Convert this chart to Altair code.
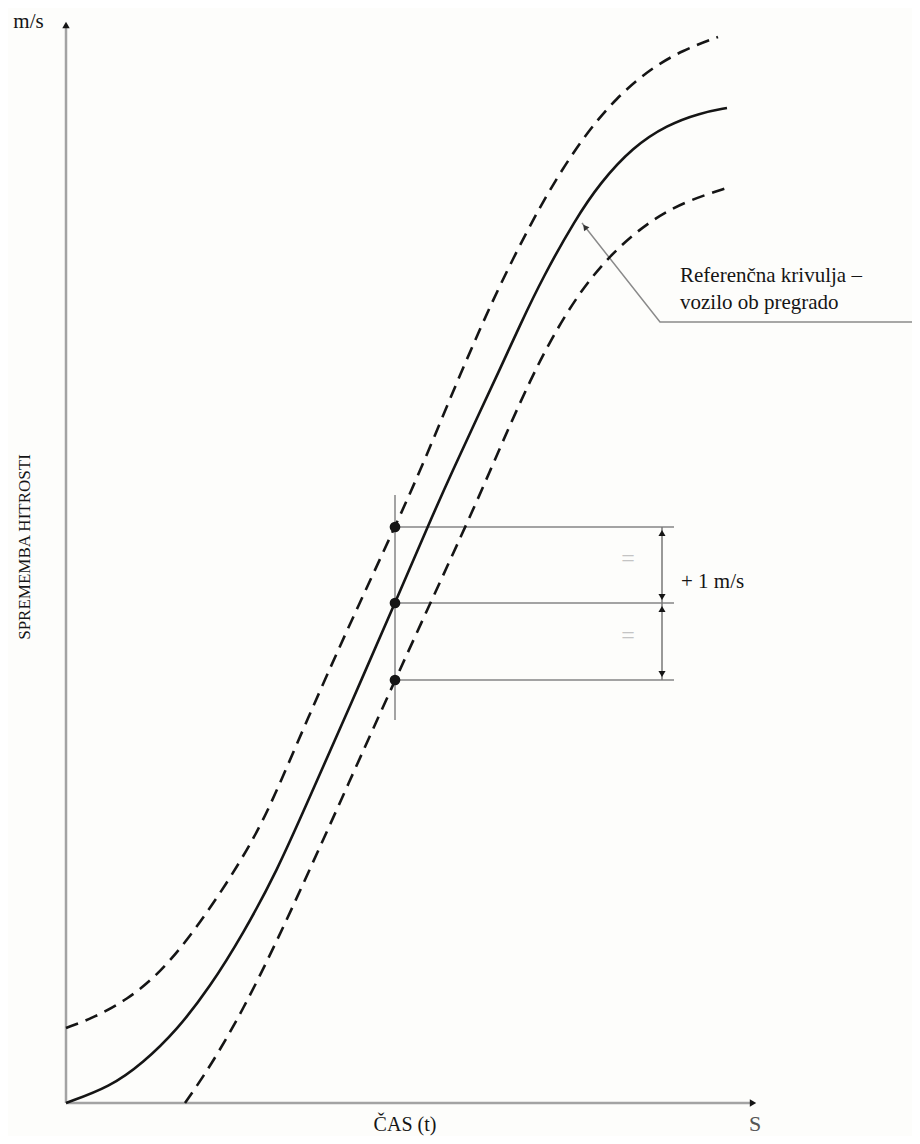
import altair as alt
import pandas as pd

# ---- data (time units on x, speed-change units on y) ----
ref_t = [0, 4.4, 7.7, 11.1, 14.4, 17.7, 21.1, 24.2, 28.4, 32.9, 36.4, 38.7, 41.1, 43.4, 45.4, 47.7, 50.9, 53.4, 56.7, 60.1, 63.4, 66.1]
ref_v = [0, 1.6, 4.0, 7.3, 11.6, 16.9, 23.2, 30.2, 39.7, 50.0, 58.2, 63.3, 68.5, 73.4, 77.8, 82.6, 88.3, 92.0, 95.6, 97.8, 99.0, 99.5]

upper_t = [0, 2.7, 6.1, 9.4, 12.7, 16.1, 18.7, 20.7, 24.1, 28.1, 32.9, 35.4, 37.4, 39.4, 41.4, 43.4, 46.1, 48.4, 51.7, 55.1, 58.4, 61.7, 65.2]
upper_v = [7.5, 8.5, 10.3, 13.0, 17.0, 22.0, 26.3, 30.3, 38.3, 47.3, 57.6, 63.2, 68.0, 72.8, 77.4, 81.8, 87.2, 91.4, 96.6, 100.6, 103.4, 105.3, 106.6]

lower_t = [11.9, 14.4, 17.7, 21.1, 24.4, 28.1, 32.9, 40.4, 42.4, 44.4, 46.4, 48.4, 51.4, 54.7, 58.1, 61.7, 66.4]
lower_v = [0, 3.6, 9.3, 16.2, 23.4, 31.6, 42.3, 58.6, 63.2, 67.8, 72.2, 76.2, 81.2, 85.1, 88.0, 90.1, 91.6]

check_t = 32.9
check_levels = [57.6, 50.0, 42.3]       # upper band, reference, lower band
dim_t = 59.6                             # dimension arrow position
line_end_t = 60.8                        # end of horizontal extension lines
bracket_v = [38.3, 60.8]                 # vertical marker extent

x_axis_end = 69.1
y_axis_end = 108.3

leader_t = [51.6, 59.4, 84.6]
leader_v = [88.0, 78.1, 78.1]

X_DOMAIN = [-5.8, 84.6]
Y_DOMAIN = [-3.3, 109.5]

FONT = "Liberation Serif"
INK = "#151515"
GREY = "#a3a3a3"

xs = alt.Scale(domain=X_DOMAIN, nice=False, zero=False)
ys = alt.Scale(domain=Y_DOMAIN, nice=False, zero=False)


def X(f="t"):
    return alt.X(f"{f}:Q", scale=xs, axis=None)


def Y(f="v"):
    return alt.Y(f"{f}:Q", scale=ys, axis=None)


# ---- axes ----
axes_df = pd.DataFrame({
    "t": [0, 0], "v": [0, 0],
    "t2": [x_axis_end - 0.5, 0], "v2": [0, y_axis_end - 0.5],
})
axes = alt.Chart(axes_df).mark_rule(color=GREY, strokeWidth=2.5).encode(
    x=X(), y=Y(), x2="t2:Q", y2="v2:Q")

axis_heads_up = alt.Chart(pd.DataFrame({"t": [0], "v": [y_axis_end - 0.5]})).mark_point(
    shape="triangle-up", filled=True, color=INK, size=55, opacity=1).encode(x=X(), y=Y())
axis_heads_right = alt.Chart(pd.DataFrame({"t": [x_axis_end - 0.4], "v": [0]})).mark_point(
    shape="triangle-right", filled=True, color=INK, size=55, opacity=1).encode(x=X(), y=Y())

# ---- curves ----
ref_df = pd.DataFrame({"t": ref_t, "v": ref_v})
ref_line = alt.Chart(ref_df).mark_line(color=INK, strokeWidth=2.6, interpolate="basis").encode(
    x=X(), y=Y())

band_df = pd.concat([
    pd.DataFrame({"t": upper_t, "v": upper_v, "s": "upper"}),
    pd.DataFrame({"t": lower_t, "v": lower_v, "s": "lower"}),
])
band_lines = alt.Chart(band_df).mark_line(
    color=INK, strokeWidth=2.6, strokeDash=[13, 8], interpolate="basis").encode(
    x=X(), y=Y(), detail="s:N")

# ---- check-point bracket ----
vert_df = pd.DataFrame({"t": [check_t], "v": [bracket_v[0]], "v2": [bracket_v[1]]})
vert = alt.Chart(vert_df).mark_rule(color=GREY, strokeWidth=2).encode(x=X(), y=Y(), y2="v2:Q")

hlines_df = pd.DataFrame({"t": [check_t] * 3, "t2": [line_end_t] * 3, "v": check_levels})
hlines = alt.Chart(hlines_df).mark_rule(color=GREY, strokeWidth=2).encode(x=X(), x2="t2:Q", y=Y())

dim_df = pd.DataFrame({"t": [dim_t], "v": [check_levels[2]], "v2": [check_levels[0]]})
dim = alt.Chart(dim_df).mark_rule(color="#777777", strokeWidth=1.5).encode(x=X(), y=Y(), y2="v2:Q")

heads_up_df = pd.DataFrame({"t": [dim_t, dim_t], "v": [check_levels[0] - 0.6, check_levels[1] - 0.6]})
heads_dn_df = pd.DataFrame({"t": [dim_t, dim_t], "v": [check_levels[1] + 0.6, check_levels[2] + 0.6]})
heads_up = alt.Chart(heads_up_df).mark_point(shape="triangle-up", filled=True, color=INK, size=50,
                                             opacity=1).encode(x=X(), y=Y())
heads_dn = alt.Chart(heads_dn_df).mark_point(shape="triangle-down", filled=True, color=INK, size=50,
                                             opacity=1).encode(x=X(), y=Y())

dots_df = pd.DataFrame({"t": [check_t] * 3, "v": check_levels})
dots = alt.Chart(dots_df).mark_circle(color=INK, size=115, opacity=1).encode(x=X(), y=Y())

# ---- leader line for annotation ----
leader_df = pd.DataFrame({"t": leader_t, "v": leader_v, "o": [0, 1, 2]})
leader = alt.Chart(leader_df).mark_line(color="#8a8a8a", strokeWidth=1.5).encode(
    x=X(), y=Y(), order="o:Q")
leader_head = alt.Chart(pd.DataFrame({"t": [leader_t[0] + 0.3], "v": [leader_v[0] - 0.4]})).mark_point(
    shape="triangle-up", filled=True, color="#333333", size=45, angle=322, opacity=1).encode(x=X(), y=Y())

# ---- texts ----
center_txt_df = pd.DataFrame({
    "t": [-3.75, 33.9, 68.9, 56.2, 56.2],
    "v": [107.5, -2.8, -2.8, 53.7, 46.0],
    "label": ["m/s", "ČAS (t)", "S", "=", "="],
    "size": [21, 20, 22, 24, 24],
    "col": [INK, INK, "#555555", "#c4c4c4", "#c4c4c4"],
})
center_txt = alt.Chart(center_txt_df).mark_text(font=FONT, align="center", baseline="alphabetic").encode(
    x=X(), y=Y(), text="label:N",
    size=alt.Size("size:Q", scale=None, legend=None),
    color=alt.Color("col:N", scale=None, legend=None))

left_txt_df = pd.DataFrame({
    "t": [61.4, 61.4, 61.5],
    "v": [82.1, 79.45, 51.5],
    "label": ["Referenčna krivulja –", "vozilo ob pregrado", "+ 1 m/s"],
})
left_txt = alt.Chart(left_txt_df).mark_text(font=FONT, align="left", baseline="alphabetic",
                                            fontSize=21, color=INK).encode(
    x=X(), y=Y(), text="label:N")

ylab = alt.Chart(pd.DataFrame({"t": [-4.1], "v": [55.6], "label": ["SPREMEMBA HITROSTI"]})).mark_text(
    font=FONT, fontSize=17, angle=270, align="center", baseline="middle", color=INK).encode(
    x=X(), y=Y(), text="label:N")

chart = alt.layer(
    axes, axis_heads_up, axis_heads_right,
    vert, hlines, dim, heads_up, heads_dn,
    leader, leader_head,
    band_lines, ref_line, dots,
    center_txt, left_txt, ylab,
).properties(
    width=904, height=1128, background="#fdfdfb", padding=0,
    autosize=alt.AutoSizeParams(type="none"),
).configure_view(stroke=None)

chart.save("out.html", embed_options={"renderer": "svg", "actions": False})
